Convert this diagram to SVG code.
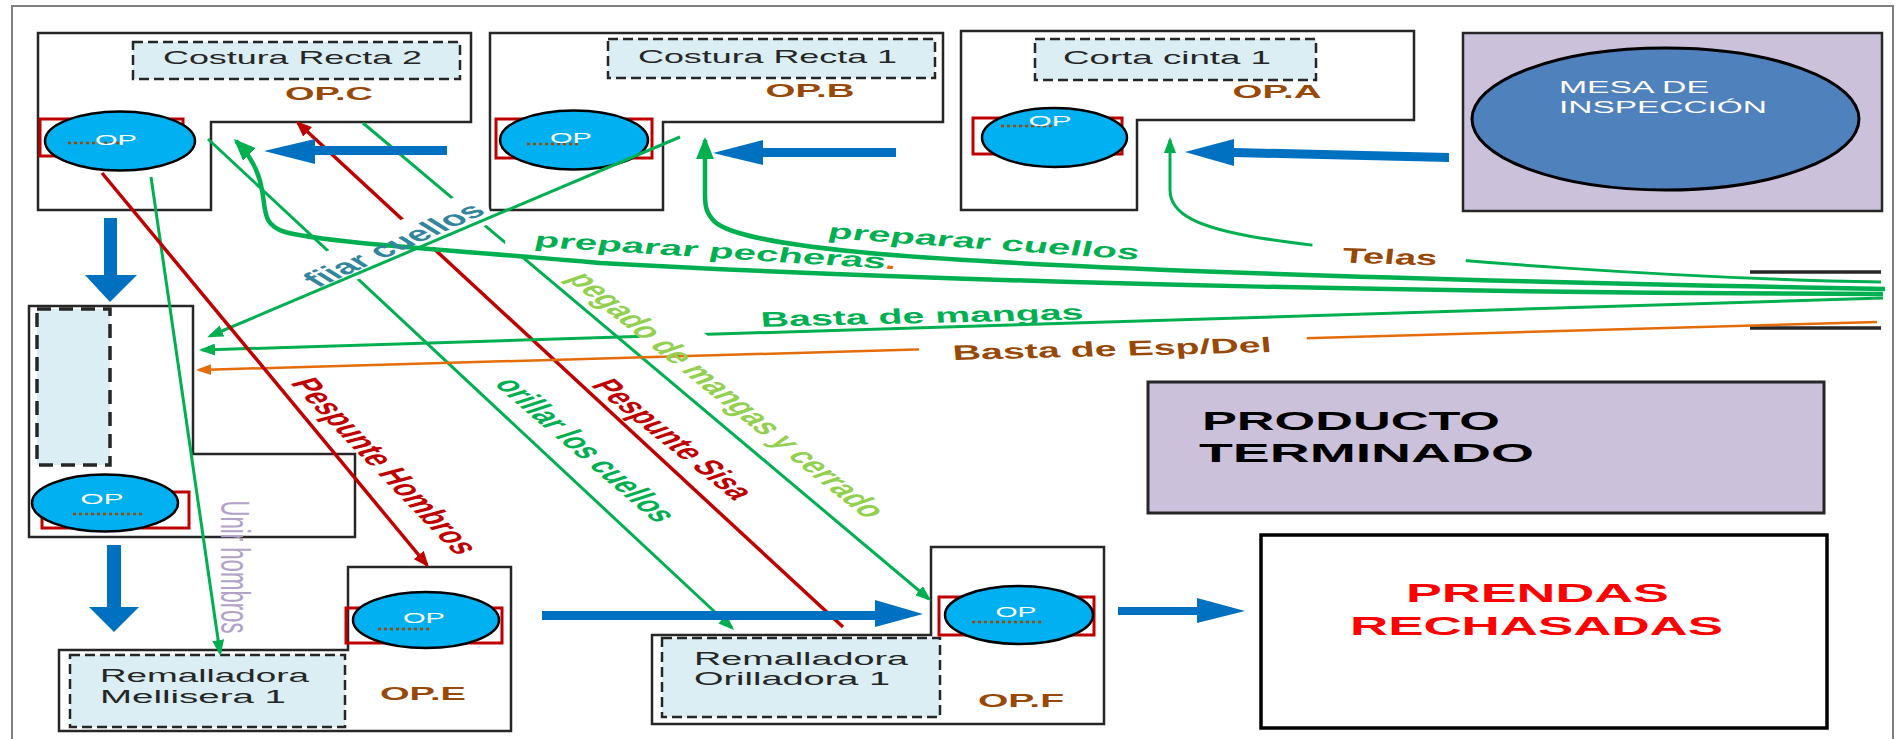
<svg xmlns="http://www.w3.org/2000/svg" width="1901" height="739" viewBox="0 0 1901 739">
<defs>
<style>
.node{fill:#fff;stroke:#262626;stroke-width:2.5}
.dbox{fill:#DAEEF3;stroke:#262626;stroke-width:2.5;stroke-dasharray:10 5}
.op{fill:#00B0F0;stroke:#000;stroke-width:2.5}
.rbr{fill:none;stroke:#C00000;stroke-width:3}
.dots{stroke:#984807;stroke-width:2.5;stroke-dasharray:3 3}
.t{font-family:"Liberation Sans",Arial,sans-serif}
.nt{font-size:19px;fill:#262626}
.rt{font-size:18px;fill:#262626}
.opl{font-size:18px;font-weight:bold;fill:#984807}
.opt{font-size:15px;fill:#fff}
.lb{font-size:21px;font-weight:bold}
.g{fill:none;stroke:#00B050;stroke-width:3}
.gk{fill:none;stroke:#00B050;stroke-width:4.5}
.r{fill:none;stroke:#C00000;stroke-width:3.5}
.o{fill:none;stroke:#E46C0A;stroke-width:2.5}
.bl{fill:#0070C0}
.wb{fill:#fff}
</style>
<marker id="aG" viewBox="0 0 16 12" refX="13" refY="6" markerWidth="16" markerHeight="12" markerUnits="userSpaceOnUse" orient="auto"><path d="M0,0 L16,6 L0,12 z" fill="#00B050"/></marker>
<marker id="aGL" viewBox="0 0 22 18" refX="19" refY="9" markerWidth="22" markerHeight="18" markerUnits="userSpaceOnUse" orient="auto"><path d="M0,0 L22,9 L0,18 z" fill="#00B050"/></marker>
<marker id="aR" viewBox="0 0 16 13" refX="13" refY="6.5" markerWidth="16" markerHeight="13" markerUnits="userSpaceOnUse" orient="auto"><path d="M0,0 L16,6.5 L0,13 z" fill="#C00000"/></marker>
<marker id="aO" viewBox="0 0 15 11" refX="12" refY="5.5" markerWidth="15" markerHeight="11" markerUnits="userSpaceOnUse" orient="auto"><path d="M0,0 L15,5.5 L0,11 z" fill="#E46C0A"/></marker>
</defs>
<rect width="1901" height="739" fill="#fff"/>
<rect x="12" y="6" width="1881" height="760" fill="none" stroke="#7F7F7F" stroke-width="2"/>

<g id="node-opc">
<path class="node" d="M38,33 H471 V122 H211 V210 H38 Z"/>
<rect class="dbox" x="133" y="42" width="327" height="37"/>
<text class="t nt" x="292.5" y="64" text-anchor="middle" textLength="259" lengthAdjust="spacingAndGlyphs">Costura Recta 2</text>
<text class="t opl" x="329" y="100" text-anchor="middle" textLength="88" lengthAdjust="spacingAndGlyphs">OP.C</text>
<rect class="rbr" x="40" y="119" width="143" height="37"/>
<ellipse class="op" cx="120" cy="141" rx="75" ry="29.5"/>
<line class="dots" x1="68" y1="143" x2="120" y2="143"/>
<text class="t opt" x="116" y="145" text-anchor="middle" textLength="42" lengthAdjust="spacingAndGlyphs">OP</text>
</g>

<g id="node-opb">
<path class="node" d="M490,33 H943 V122 H663 V210 H490 Z"/>
<rect class="dbox" x="608" y="39" width="327" height="39"/>
<text class="t nt" x="767.5" y="63" text-anchor="middle" textLength="259" lengthAdjust="spacingAndGlyphs">Costura Recta 1</text>
<text class="t opl" x="810" y="97" text-anchor="middle" textLength="89" lengthAdjust="spacingAndGlyphs">OP.B</text>
<rect class="rbr" x="496" y="119" width="156" height="39"/>
<ellipse class="op" cx="574" cy="140" rx="74" ry="29.5"/>
<line class="dots" x1="527" y1="144" x2="578" y2="144"/>
<text class="t opt" x="571" y="143" text-anchor="middle" textLength="42" lengthAdjust="spacingAndGlyphs">OP</text>
</g>

<g id="node-opa">
<path class="node" d="M961,31 H1414 V120 H1137 V210 H961 Z"/>
<rect class="dbox" x="1035" y="39" width="281" height="41"/>
<text class="t nt" x="1167" y="64" text-anchor="middle" textLength="208" lengthAdjust="spacingAndGlyphs">Corta cinta 1</text>
<text class="t opl" x="1277" y="98" text-anchor="middle" textLength="89" lengthAdjust="spacingAndGlyphs">OP.A</text>
<rect class="rbr" x="973" y="118" width="149" height="36"/>
<ellipse class="op" cx="1054.5" cy="137.5" rx="72.5" ry="29.5"/>
<line class="dots" x1="1001" y1="126" x2="1053" y2="126"/>
<text class="t opt" x="1050" y="126" text-anchor="middle" textLength="43" lengthAdjust="spacingAndGlyphs">OP</text>
</g>

<g id="node-mesa">
<rect x="1463" y="33" width="419" height="178" fill="#CCC1DA" stroke="#262626" stroke-width="2.5"/>
<ellipse cx="1665.5" cy="119" rx="193.5" ry="71" fill="#4F81BD" stroke="#000" stroke-width="3"/>
<text class="t" x="1559" y="93" font-size="16" fill="#fff" textLength="150" lengthAdjust="spacingAndGlyphs">MESA DE</text>
<text class="t" x="1559" y="113" font-size="16" fill="#fff" textLength="208" lengthAdjust="spacingAndGlyphs">INSPECCIÓN</text>
</g>

<g id="node-opd">
<path class="node" d="M29,306 H193 V454 H355 V537 H29 Z"/>
<rect x="37" y="309" width="73" height="156" fill="#DAEEF3" stroke="#262626" stroke-width="3.5" stroke-dasharray="14 8"/>
<rect class="rbr" x="42" y="492" width="147" height="36"/>
<ellipse class="op" cx="105" cy="503" rx="73" ry="28.5"/>
<line class="dots" x1="73" y1="514" x2="145" y2="514"/>
<text class="t opt" x="102" y="504" text-anchor="middle" textLength="43" lengthAdjust="spacingAndGlyphs">OP</text>
</g>

<g id="node-ope">
<path class="node" d="M348,567 H511 V731 H59 V650 H348 Z"/>
<rect class="dbox" x="70" y="655" width="275" height="72"/>
<text class="t rt" x="100" y="682" textLength="209" lengthAdjust="spacingAndGlyphs">Remalladora</text>
<text class="t rt" x="100" y="703" textLength="186" lengthAdjust="spacingAndGlyphs">Mellisera 1</text>
<text class="t opl" x="423" y="700" text-anchor="middle" textLength="86" lengthAdjust="spacingAndGlyphs">OP.E</text>
<rect class="rbr" x="346" y="608" width="156" height="35"/>
<ellipse class="op" cx="426" cy="620" rx="73" ry="28"/>
<line class="dots" x1="378" y1="629" x2="429" y2="629"/>
<text class="t opt" x="424" y="623" text-anchor="middle" textLength="42" lengthAdjust="spacingAndGlyphs">OP</text>
</g>

<g id="node-opf">
<path class="node" d="M931,547 H1104 V724 H652 V635 H931 Z"/>
<rect class="dbox" x="662" y="638" width="278" height="79"/>
<text class="t rt" x="694" y="665" textLength="214" lengthAdjust="spacingAndGlyphs">Remalladora</text>
<text class="t rt" x="694" y="685" textLength="196" lengthAdjust="spacingAndGlyphs">Orilladora 1</text>
<text class="t opl" x="1021" y="707" text-anchor="middle" textLength="86" lengthAdjust="spacingAndGlyphs">OP.F</text>
<rect class="rbr" x="939" y="597" width="155" height="38"/>
<ellipse class="op" cx="1019" cy="615" rx="74" ry="29"/>
<line class="dots" x1="972" y1="622" x2="1043" y2="622"/>
<text class="t opt" x="1016" y="617" text-anchor="middle" textLength="41" lengthAdjust="spacingAndGlyphs">OP</text>
</g>

<g id="node-producto">
<rect x="1148" y="382" width="676" height="131" fill="#CCC1DA" stroke="#262626" stroke-width="3"/>
<text class="t" x="1202" y="430" font-size="25" font-weight="bold" fill="#000" textLength="298" lengthAdjust="spacingAndGlyphs">PRODUCTO</text>
<text class="t" x="1199" y="462" font-size="25" font-weight="bold" fill="#000" textLength="335" lengthAdjust="spacingAndGlyphs">TERMINADO</text>
</g>

<g id="node-prendas">
<rect x="1261" y="535" width="566" height="193" fill="#fff" stroke="#000" stroke-width="3.5"/>
<text class="t" x="1406" y="602" font-size="26" font-weight="bold" fill="#FF0000" textLength="263" lengthAdjust="spacingAndGlyphs">PRENDAS</text>
<text class="t" x="1350" y="635" font-size="26" font-weight="bold" fill="#FF0000" textLength="373" lengthAdjust="spacingAndGlyphs">RECHASADAS</text>
</g>

<g id="node-almacen">
<line x1="1750" y1="272" x2="1881" y2="272" stroke="#262626" stroke-width="3.5"/>
<line x1="1750" y1="328" x2="1881" y2="328" stroke="#262626" stroke-width="3.5"/>
</g>

<g id="connectors">
<path class="g" d="M208,139 L732,628" marker-end="url(#aG)"/>
<path class="g" d="M363,123 L929,599" marker-end="url(#aG)"/>
<path class="r" d="M843,627 L298,123" marker-end="url(#aR)"/>
<path class="g" d="M1883,298 L202,350" marker-end="url(#aG)"/>
<path class="g" d="M1881,282 C1700,279 1420,262 1260,238 C1200,228 1170,215 1170,190 L1170,140" marker-end="url(#aG)"/>
<g id="label-boxes">
<rect class="wb" x="-100" y="-19" width="200" height="38" transform="translate(395,243) rotate(-23)"/>
<rect class="wb" x="-205" y="-22" width="410" height="44" transform="translate(742,392) rotate(39)"/>
<rect class="wb" x="-200" y="-18" width="400" height="36" transform="translate(705,250) rotate(3.6)"/>
<rect class="wb" x="-77" y="-17" width="154" height="34" transform="translate(1389,254) rotate(4)"/>
</g>
<path class="o" d="M1877,322 L199,370" marker-end="url(#aO)"/>
<rect class="wb" x="-194" y="-17" width="388" height="34" transform="translate(1113,350) rotate(-1.4)"/>
<path class="g" d="M680,137 L210,336" marker-end="url(#aG)"/>
<path class="g" d="M151,177 L220,653" marker-end="url(#aG)"/>
<path class="r" d="M102,173 L427,565" marker-end="url(#aR)"/>
<path class="gk" d="M1885,289 C1400,280 1050,268 880,254 C780,245 730,235 715,222 C707,214 705,208 705,195 L705,140" marker-end="url(#aGL)"/>
<path class="gk" d="M1883,294 C1500,293 1000,285 600,263 C450,250 320,242 285,232 C262,225 266,210 262,190 C258,165 245,150 236,141" marker-end="url(#aGL)"/>
<path class="bl" d="M1449,153 L1234,148 L1234,139 L1185,152 L1234,166 L1234,157 L1449,162 Z"/>
<path class="bl" d="M896,148 L763,148 L763,140 L713,153 L763,165 L763,157 L896,157 Z"/>
<path class="bl" d="M447,146 L315,146 L315,139 L264,151 L315,164 L315,155 L447,155 Z"/>
<path class="bl" d="M104,218 L117,218 L117,275 L137,275 L110,302 L85,275 L104,275 Z"/>
<path class="bl" d="M107,545 L121,545 L121,607 L139,607 L114,632 L89,607 L107,607 Z"/>
<path class="bl" d="M542,611 L875,611 L875,600 L923,614 L875,627 L875,620 L542,620 Z"/>
<path class="bl" d="M1118,607 L1197,607 L1197,598 L1245,611 L1197,623 L1197,615 L1118,615 Z"/>
</g>

<g id="labels">
<text class="t lb" fill="#C00000" x="0" y="7" text-anchor="middle" textLength="194" lengthAdjust="spacingAndGlyphs" transform="translate(385,466) scale(1.9,1) rotate(63.1)">Pespunte Hombros</text>
<text class="t lb" fill="#00B050" x="0" y="7" text-anchor="middle" textLength="164" lengthAdjust="spacingAndGlyphs" transform="translate(586,450) scale(1.9,1) rotate(58.5)">orillar los cuellos</text>
<text class="t lb" fill="#C00000" x="0" y="7" text-anchor="middle" textLength="138" lengthAdjust="spacingAndGlyphs" transform="translate(673,439) scale(1.9,1) rotate(56.7)">Pespunte Sisa</text>
<text class="t lb" fill="#92D050" x="0" y="7" text-anchor="middle" textLength="288" lengthAdjust="spacingAndGlyphs" transform="translate(727,395) scale(1.9,1) rotate(56.7)">pegado de mangas y cerrado</text>
<text class="t lb" fill="#31859C" x="0" y="7" text-anchor="middle" textLength="117" lengthAdjust="spacingAndGlyphs" transform="translate(394,245) scale(1.9,1) rotate(-40.2)">fiiar cuellos</text>
<text class="t" font-size="21" fill="#B3A2C7" x="0" y="0" text-anchor="middle" textLength="133" lengthAdjust="spacingAndGlyphs" transform="translate(221,567) scale(1.9,1) rotate(90)">Unir hombros</text>
<text class="t lb" fill="#00B050" x="0" y="7" text-anchor="middle" textLength="192" lengthAdjust="spacingAndGlyphs" transform="translate(716,251) scale(1.9,1) rotate(6.8)">preparar pecheras<tspan fill="#E46C0A">.</tspan></text>
<text class="t lb" fill="#00B050" x="0" y="7" text-anchor="middle" textLength="165" lengthAdjust="spacingAndGlyphs" transform="translate(984,242) scale(1.9,1) rotate(7.6)">preparar cuellos</text>
<text class="t lb" fill="#00B050" x="0" y="7" text-anchor="middle" textLength="170" lengthAdjust="spacingAndGlyphs" transform="translate(922,316) scale(1.9,1) rotate(-2.5)">Basta de mangas</text>
<text class="t lb" fill="#984807" x="0" y="7" text-anchor="middle" textLength="168" lengthAdjust="spacingAndGlyphs" transform="translate(1112,349) scale(1.9,1) rotate(-2.7)">Basta de Esp/Del</text>
<text class="t lb" fill="#984807" x="0" y="7" text-anchor="middle" textLength="50" lengthAdjust="spacingAndGlyphs" transform="translate(1390,257) scale(1.9,1) rotate(3.4)">Telas</text>
</g>
</svg>
